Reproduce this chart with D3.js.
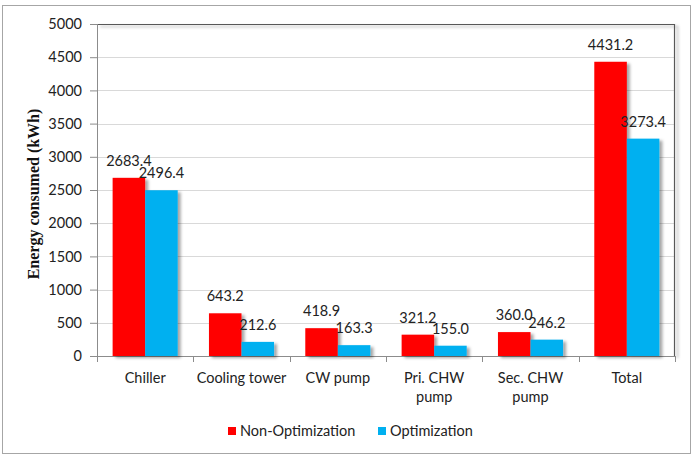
<!DOCTYPE html>
<html>
<head>
<meta charset="utf-8">
<script src="https://cdn.jsdelivr.net/npm/d3@7"></script>
<style>
  body { margin: 0; background: #fff; }
  svg { display: block; font-family: "Lato", "Open Sans", sans-serif; }
</style>
</head>
<body>
<svg id="chart" width="693" height="454"></svg>
<script>
// chart data
const categories = [["Chiller"], ["Cooling tower"], ["CW pump"], ["Pri. CHW", "pump"], ["Sec. CHW", "pump"], ["Total"]];
const nonOptimization = [2683.4, 643.2, 418.9, 321.2, 360.0, 4431.2];
const optimization = [2496.4, 212.6, 163.3, 155.0, 246.2, 3273.4];
const seriesNames = ["Non-Optimization", "Optimization"];
const yTicks = [0, 500, 1000, 1500, 2000, 2500, 3000, 3500, 4000, 4500, 5000];

const colors = ["#ff0000", "#00b0f0"];
const margin = {top: 24, right: 18, bottom: 98, left: 97};
const W = 693, H = 454;
const width = W - margin.left - margin.right,
      height = H - margin.top - margin.bottom;

const svg = d3.select("#chart");

const defs = svg.append("defs");
defs.append("filter").attr("id", "shadow")
  .attr("x", "-20%").attr("y", "-20%").attr("width", "150%").attr("height", "150%")
  .append("feDropShadow")
  .attr("dx", 3).attr("dy", 2).attr("stdDeviation", 1.5)
  .attr("flood-color", "#000").attr("flood-opacity", 0.35);

// outer border
svg.append("rect")
  .attr("x", 2.5).attr("y", 5.5).attr("width", 688).attr("height", 448)
  .attr("fill", "none").attr("stroke", "#a6a6a6");

const g = svg.append("g").attr("transform", `translate(${margin.left},${margin.top})`);

const x0 = d3.scaleBand().domain(d3.range(categories.length)).range([0, width]).paddingInner(0).paddingOuter(0);
const x1 = d3.scaleBand().domain([0, 1]).range([0, x0.bandwidth()]).paddingOuter(0.48).paddingInner(0);
const y = d3.scaleLinear().domain([0, 5000]).range([height, 0]);

// gridlines
g.append("g").selectAll("line").data(yTicks.filter(d => d > 0)).join("line")
  .attr("x1", 0).attr("x2", width)
  .attr("y1", d => Math.round(y(d)) + 0.5).attr("y2", d => Math.round(y(d)) + 0.5)
  .attr("stroke", "#d9d9d9");

// plot frame: top and right drawn darker with shadow
g.append("path")
  .attr("d", `M0,0.5H${width - 0.5}V${height}`)
  .attr("fill", "none").attr("stroke", "#595959").attr("stroke-width", 1.2)
  .attr("filter", "url(#shadow)");

// y axis
const yAxis = g.append("g")
  .call(d3.axisLeft(y).tickValues(yTicks).tickSize(7).tickPadding(8).tickFormat(d3.format("d")));
yAxis.select(".domain").attr("stroke", "#8c8c8c").attr("d", `M0.5,0V${height}`);
yAxis.selectAll(".tick line").attr("stroke", "#8c8c8c");
yAxis.selectAll("text").attr("font-size", 14.5).attr("fill", "#222").attr("font-family", "Lato, sans-serif");

// x axis
const xAxis = g.append("g").attr("transform", `translate(0,${height})`);
xAxis.append("line").attr("x1", 0).attr("x2", width).attr("y1", 0.5).attr("y2", 0.5).attr("stroke", "#8c8c8c");
xAxis.selectAll(".tk").data(d3.range(categories.length + 1)).join("line")
  .attr("x1", i => Math.round(i * x0.step()) + 0.5).attr("x2", i => Math.round(i * x0.step()) + 0.5)
  .attr("y1", 0).attr("y2", 6).attr("stroke", "#8c8c8c");
const xl = xAxis.selectAll(".lbl").data(categories).join("text")
  .attr("x", (d, i) => x0(i) + x0.bandwidth() / 2)
  .attr("y", 27)
  .attr("text-anchor", "middle")
  .attr("font-size", 14.5).attr("fill", "#222");
xl.selectAll("tspan").data(d => d).join("tspan")
  .attr("x", function() { return this.parentNode.getAttribute("x"); })
  .attr("dy", (d, i) => i === 0 ? 0 : 19)
  .text(d => d);

// bars
const groups = g.selectAll(".grp").data(categories.map((c, i) => [nonOptimization[i], optimization[i]]))
  .join("g").attr("transform", (d, i) => `translate(${x0(i)},0)`);
groups.selectAll("rect").data(d => d).join("rect")
  .attr("x", (d, j) => x1(j))
  .attr("y", d => y(d))
  .attr("width", x1.bandwidth())
  .attr("height", d => height - y(d))
  .attr("fill", (d, j) => colors[j])
  .attr("filter", "url(#shadow)");
groups.selectAll("text").data(d => d).join("text")
  .attr("x", (d, j) => x1(j) + x1.bandwidth() / 2)
  .attr("y", d => y(d) - 12)
  .attr("text-anchor", "middle")
  .attr("font-size", 14.5).attr("fill", "#222")
  .text(d => d.toFixed(1));

// y axis title
svg.append("text")
  .attr("transform", `translate(39,${margin.top + height / 2 + 4}) rotate(-90)`)
  .attr("text-anchor", "middle")
  .attr("font-family", "Liberation Serif, serif")
  .attr("font-weight", "bold").attr("font-size", 16)
  .attr("fill", "#111")
  .text("Energy consumed (kWh)");

// legend
const legendX = [228, 378];
const lg = svg.append("g").attr("transform", "translate(0,431)");
seriesNames.forEach((name, i) => {
  lg.append("rect").attr("x", legendX[i]).attr("y", -4).attr("width", 8).attr("height", 8).attr("fill", colors[i]);
  lg.append("text").attr("x", legendX[i] + 12).attr("y", 5)
    .attr("font-size", 14.5).attr("fill", "#222").text(name);
});
</script>
</body>
</html>
